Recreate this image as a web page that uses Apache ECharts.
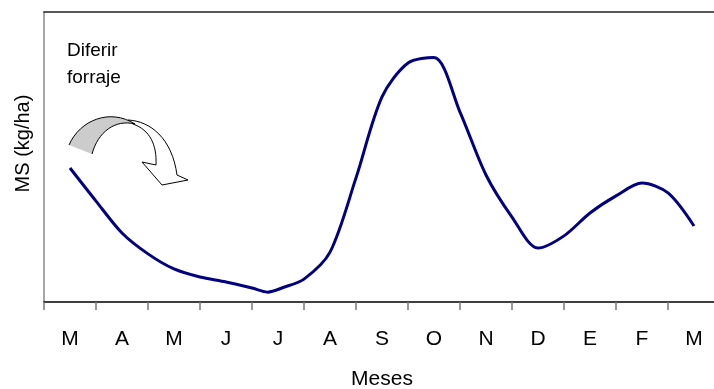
<!DOCTYPE html>
<html>
<head>
<meta charset="utf-8">
<script src="https://cdn.jsdelivr.net/npm/echarts@6/dist/echarts.min.js"></script>
<style>
  html, body { margin: 0; padding: 0; background: #fff; }
  #chart { width: 714px; height: 389px; }
</style>
</head>
<body>
<div id="chart"></div>
<script>
// meses (eje x)
var meses = ['M', 'A', 'M', 'J', 'J', 'A', 'S', 'O', 'N', 'D', 'E', 'F', 'M'];

// posicion en meses (0 = inicio de marzo) y MS
var posMes = [0.5, 1.0, 1.5, 2.0, 2.5, 3.0, 3.5, 4.0, 4.3, 4.6, 5.0, 5.5, 6.0, 6.5, 7.0, 7.5, 8.0, 8.5, 9.0, 9.5, 10.0, 10.5, 11.0, 11.5, 12.0, 12.5];
var msValores = [46.2, 34.8, 23.8, 16.6, 11.4, 8.6, 6.9, 4.8, 3.4, 5.0, 7.9, 17.2, 42.8, 70.7, 82.4, 84.3, 65.5, 43.8, 29.3, 18.6, 22.8, 30.7, 36.6, 41.0, 37.6, 26.2];

var serieMS = [];
for (var i = 0; i < posMes.length; i++) {
  serieMS.push([posMes[i], msValores[i]]);
}

// formas de la flecha "diferir forraje"
echarts.graphic.registerShape('flechaBlanca', echarts.graphic.extendPath(
  'M 128 120 C 150 121, 172 138, 177 175 L 188 180 L 162 185 L 142 162 L 156 165 C 157 145, 150 130, 133 124 Z'));
echarts.graphic.registerShape('bandaGris', echarts.graphic.extendPath(
  'M 69 145 C 80 120, 110 108, 135 124 C 115 119, 98 132, 92 154 Z'));
echarts.graphic.registerShape('bordeExt', echarts.graphic.extendPath(
  'M 69 145 C 80 120, 110 108, 135 124'));
echarts.graphic.registerShape('bordeInt', echarts.graphic.extendPath(
  'M 92 154 C 98 132, 115 119, 135 124'));

var chart = echarts.init(document.getElementById('chart'));

var fuente = '"Liberation Sans", Arial, sans-serif';

var option = {
  animation: false,
  grid: { left: 44, top: 12, width: 676, height: 290, outerBoundsMode: 'none' },
  xAxis: [{
    type: 'category',
    data: meses,
    boundaryGap: true,
    position: 'bottom',
    axisLine: { lineStyle: { color: '#000', width: 1.5 } },
    axisTick: { show: true, length: 8, lineStyle: { color: '#777', width: 1.5 } },
    axisLabel: { color: '#000', fontSize: 21, fontFamily: fuente, margin: 27 },
    splitLine: { show: false },
    name: 'Meses',
    nameLocation: 'middle',
    nameGap: 67,
    nameTextStyle: { color: '#000', fontSize: 21, fontFamily: fuente }
  }, {
    type: 'value',
    min: 0,
    max: 13,
    position: 'top',
    axisLine: { show: true, lineStyle: { color: '#222', width: 1.5 } },
    axisTick: { show: false },
    axisLabel: { show: false },
    splitLine: { show: false }
  }],
  yAxis: {
    type: 'value',
    min: 0,
    max: 100,
    axisLine: { show: true, lineStyle: { color: '#888', width: 1.5 } },
    axisTick: { show: false },
    axisLabel: { show: false },
    splitLine: { show: false },
    name: 'MS (kg/ha)',
    nameLocation: 'middle',
    nameGap: 11,
    nameTextStyle: { color: '#000', fontSize: 20, fontFamily: fuente, padding: [0, 0, 0, 27] }
  },
  graphic: [{
    type: 'text',
    x: 67,
    y: 37,
    style: {
      text: 'Diferir\nforraje',
      fill: '#000',
      font: '19px ' + fuente,
      lineHeight: 27
    }
  }, {
    type: 'flechaBlanca',
    style: { fill: '#fff', stroke: '#000', lineWidth: 1 }
  }, {
    type: 'bandaGris',
    style: { fill: '#cccccc', stroke: null }
  }, {
    type: 'bordeExt',
    style: { fill: null, stroke: '#000', lineWidth: 1 }
  }, {
    type: 'bordeInt',
    style: { fill: null, stroke: '#000', lineWidth: 1 }
  }],
  series: [{
    name: 'MS',
    type: 'line',
    xAxisIndex: 1,
    data: serieMS,
    smooth: 0.3,
    showSymbol: false,
    lineStyle: { color: '#000080', width: 3 }
  }]
};

chart.setOption(option);
</script>
</body>
</html>
